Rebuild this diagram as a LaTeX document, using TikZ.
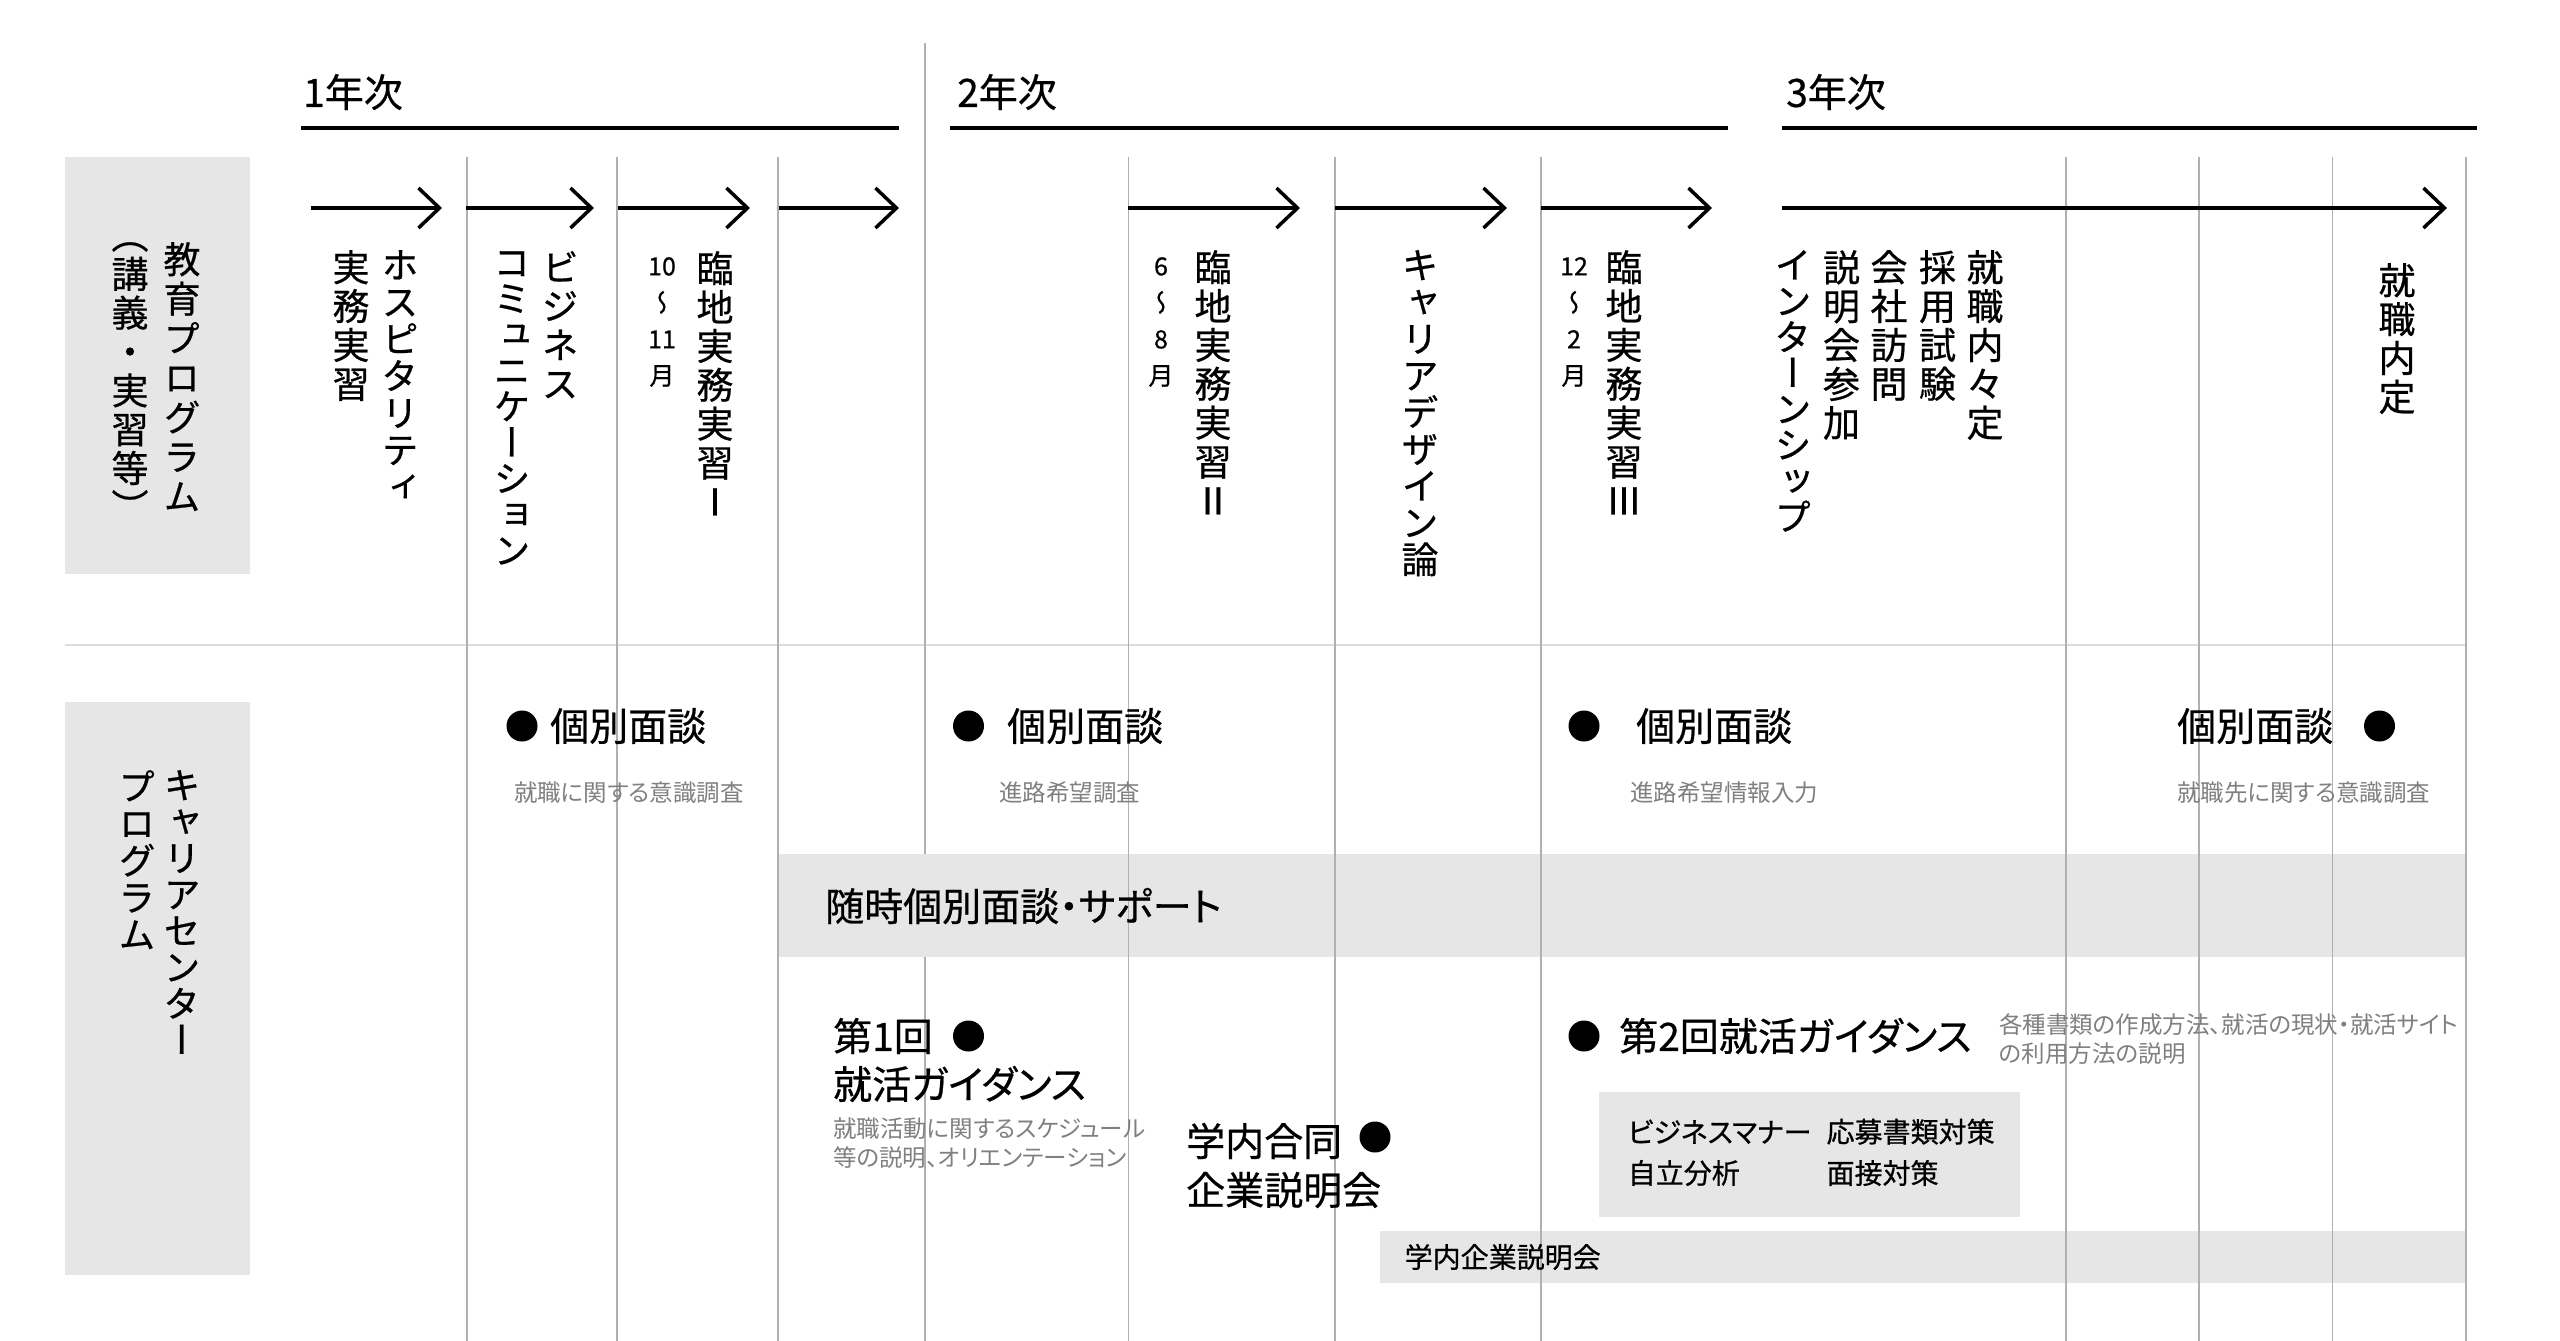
\documentclass[tikz,border=0pt]{standalone}
\usepackage{fontspec}
\setmainfont[RawFeature=+palt]{Noto Sans CJK JP}
\newfontfamily\medfont[RawFeature=+palt,FakeBold=0.6]{Noto Sans CJK JP}
\newfontfamily\tatefont[RawFeature=+vert,FakeBold=0.6]{Noto Sans CJK JP}
\usetikzlibrary{arrows.meta}

\definecolor{bandgray}{HTML}{E6E6E6}
\definecolor{gridgray}{HTML}{B0B0B0}
\definecolor{rulegray}{HTML}{DDDDDD}
\definecolor{notegray}{HTML}{808080}

% vertical (tategaki) column, one item per line
\makeatletter
\newcommand{\tate}[2][1.05em]{\vtop{\baselineskip=#1\lineskiplimit=-\maxdimen\lineskip=0pt
	\@tfor\tch:=#2\do{\hbox to 1em{\hss\tch\hss}}}}
\makeatother

\begin{document}
\begin{tikzpicture}[x=1pt,y=-1pt,
		vtext/.style={anchor=north,inner sep=0pt,font=\tatefont\fontsize{37}{39}\selectfont},
		month/.style={anchor=north,inner sep=0pt,font=\tatefont\fontsize{25}{30}\selectfont},
		year/.style={anchor=west,inner sep=0pt,font=\medfont\fontsize{39}{46}\selectfont},
		headline/.style={anchor=west,inner sep=0pt,font=\medfont\fontsize{39}{46}\selectfont},
		note/.style={anchor=west,inner sep=0pt,align=left,text=notegray,font=\fontsize{23.5}{28.5}\selectfont},
		subitem/.style={anchor=west,inner sep=0pt,font=\medfont\fontsize{28}{34}\selectfont},
		bullet/.style={circle,fill=black,inner sep=0pt,minimum size=31pt},
		band/.style={fill=bandgray},
		gridline/.style={draw=gridgray,line width=1.6pt},
		yearbar/.style={line width=4.5pt},
		timeline/.style={line width=3.5pt,-{Straight Barb[length=21pt,width=40pt]}}]
	\useasboundingbox (0,0) rectangle (2560,1341);
	\fill[white] (0,0) rectangle (2560,1341);

	%% years
	\node[year] (yr1) at (303,92) {1年次};
	\node[year] (yr2) at (957,92) {2年次};
	\node[year] (yr3) at (1786,92) {3年次};
	\draw[yearbar] (301,128) -- (899,128);
	\draw[yearbar] (950,128) -- (1728,128);
	\draw[yearbar] (1782,128) -- (2477,128);

	%% row labels
	\fill[band] (65,157) rectangle (250,574);
	\fill[band] (65,702) rectangle (250,1275);
	\node[vtext] (edu) at (182,242) {\tate[39.5pt]{教育プログラム}};
	\node[vtext] (edusub) at (130,242) {\tate{（講義・実習等）}};
	\node[vtext] (cc) at (182,770) {\tate[36.4pt]{キャリアセンター}};
	\node[vtext] (ccsub) at (137,770) {\tate[37pt]{プログラム}};

	%% grid and bands
	\draw[draw=rulegray,line width=2.5pt] (65,645) -- (2466,645);
	\draw[gridline] (925,43) -- (925,1341);
	\fill[band] (778,854) rectangle (2466,956.5);
	\fill[band] (1379.5,1231) rectangle (2466,1283);
	\fill[band] (1599,1091.5) rectangle (2020,1216.7);
	\foreach \x in {467,617,778,1128.5,1335,1541,2066,2199,2332.5,2466}
		\draw[gridline] (\x,157) -- (\x,1341);

	%% timeline arrows
	\foreach \i/\a/\b in {1/311/442,2/466/594,3/618/750,4/779/899,5/1128/1300,6/1335/1507,7/1541/1712,8/1782/2447} {
		\coordinate (ts\i) at (\a,208);
		\coordinate (te\i) at (\b,208);
		\draw[timeline] (ts\i) -- (te\i);
	}

	%% education program
	\node[vtext] (hosp) at (400,250) {\tate[37pt]{ホスピタリティ}};
	\node[vtext] (hospsub) at (351,250) {\tate{実務実習}};
	\node[vtext] (biz) at (560,251) {\tate{ビジネス}};
	\node[vtext] (bizsub) at (512,251) {\tate[36pt]{コミュニケーション}};
	\node[month] (mon1) at (662,257) {\tate[36.5pt]{{10}〜{11}月}};
	\node[vtext] (prac1) at (715,251) {\tate{臨地実務実習Ⅰ}};
	\node[month] (mon2) at (1161,257) {\tate[36.5pt]{6〜8月}};
	\node[vtext] (prac2) at (1213,250) {\tate{臨地実務実習Ⅱ}};
	\node[vtext] (design) at (1420,250) {\tate[36.8pt]{キャリアデザイン論}};
	\node[month] (mon3) at (1574,257) {\tate[36.5pt]{{12}〜2月}};
	\node[vtext] (prac3) at (1624,250) {\tate{臨地実務実習Ⅲ}};
	\node[vtext] (intern) at (1793,250) {\tate[36pt]{インターンシップ}};
	\node[vtext] (seminar) at (1841.5,250) {\tate{説明会参加}};
	\node[vtext] (visit) at (1889,250) {\tate{会社訪問}};
	\node[vtext] (exam) at (1937.5,250) {\tate{採用試験}};
	\node[vtext] (offer) at (1985,250) {\tate{就職内々定}};
	\node[vtext] (final) at (2397,263) {\tate{就職内定}};

	%% career center program
	\node[bullet] (d1) at (522,726) {};
	\node[headline] (iv1) at (550,726) {個別面談};
	\node[note] (n1) at (514,793) {就職に関する意識調査};
	\node[bullet] (d2) at (968.5,726) {};
	\node[headline] (iv2) at (1007,726) {個別面談};
	\node[note] (n2) at (999,793) {進路希望調査};
	\node[bullet] (d3) at (1584,726) {};
	\node[headline] (iv3) at (1636,726) {個別面談};
	\node[note] (n3) at (1630,793) {進路希望情報入力};
	\node[headline] (iv4) at (2177,726) {個別面談};
	\node[bullet] (d4) at (2379.5,726) {};
	\node[note] (n4) at (2177,793) {就職先に関する意識調査};

	\node[headline] (support) at (825,906) {随時個別面談・サポート};

	\node[headline] (g1a) at (833,1036) {第1回};
	\node[bullet] (d5) at (968.5,1036) {};
	\node[headline] (g1b) at (833,1084) {就活ガイダンス};
	\node[note] (n5) at (833,1143) {就職活動に関するスケジュール\\等の説明、オリエンテーション};

	\node[headline] (fair1) at (1186,1141) {学内合同};
	\node[bullet] (d6) at (1375,1137) {};
	\node[headline] (fair2) at (1186,1190) {企業説明会};

	\node[bullet] (d7) at (1584,1036) {};
	\node[headline] (g2) at (1619,1036) {第2回就活ガイダンス};
	\node[note] (n7) at (1999,1039) {各種書類の作成方法、就活の現状・就活サイト\\の利用方法の説明};
	\node[subitem] (manner) at (1627.6,1131.7) {ビジネスマナー};
	\node[subitem] (docs) at (1826.4,1131.7) {応募書類対策};
	\node[subitem] (self) at (1627.6,1173) {自立分析};
	\node[subitem] (inter) at (1826.4,1173) {面接対策};

	\node[subitem] (oncampus) at (1404.5,1257) {学内企業説明会};
\end{tikzpicture}
\end{document}
